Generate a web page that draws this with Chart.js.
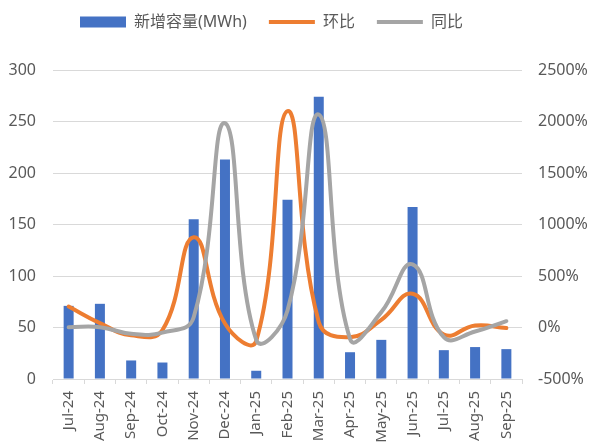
<!DOCTYPE html>
<html>
<head>
<meta charset="utf-8">
<script src="https://cdn.jsdelivr.net/npm/chart.js@4.4.1/dist/chart.umd.min.js"></script>
<style>
  body { margin: 0; background: #fff; }
</style>
</head>
<body>
<canvas id="capacity-chart" width="590" height="448"></canvas>
<script>
// monthly data
const months = ['Jul-24', 'Aug-24', 'Sep-24', 'Oct-24', 'Nov-24', 'Dec-24', 'Jan-25',
    'Feb-25', 'Mar-25', 'Apr-25', 'May-25', 'Jun-25', 'Jul-25', 'Aug-25', 'Sep-25'];
const newCapacity = [71, 73, 18, 16, 155, 213, 8, 174, 274, 26, 38, 167, 28, 31, 29];
const momChange = [203, 42, -75, -25, 877, 38, -130, 2100, 52, -94, 75, 327, -68, 19, -6];
const yoyChange = [3, 3, -61, -50, 100, 1983, -120, 165, 2068, -110, 149, 612, -94, -39, 61];

const seriesNames = ['新增容量(MWh)', '环比', '同比'];

Chart.defaults.font.family = '"Noto Sans", "Noto Sans CJK SC", sans-serif';
Chart.defaults.color = '#595959';

const gridColor = '#D9D9D9';

// legend sits higher than chart.js puts it, and leaves room below
const legendPlacement = {
    id: 'legendPlacement',
    afterInit(chart) {
        const fit = chart.legend.fit;
        chart.legend.fit = function () {
            fit.call(this);
            this.height = 70;
        };
    },
    afterLayout(chart) {
        chart.legend.left = 80 - 22;
        chart.legend.top = -8;
    }
};

const canvas = document.getElementById('capacity-chart');

new Chart(canvas, {
    data: {
        labels: months,
        datasets: [{
            type: 'bar',
            label: seriesNames[0],
            data: newCapacity,
            backgroundColor: '#4472C4',
            borderWidth: 0,
            barPercentage: 0.32,
            categoryPercentage: 1,
            pointStyle: 'rect',
            yAxisID: 'y',
            order: 3
        }, {
            type: 'line',
            label: seriesNames[1],
            data: momChange,
            borderColor: '#ED7D31',
            backgroundColor: '#ED7D31',
            borderWidth: 4,
            borderCapStyle: 'round',
            pointRadius: 0,
            pointStyle: 'line',
            tension: 0.45,
            yAxisID: 'y1',
            order: 2
        }, {
            type: 'line',
            label: seriesNames[2],
            data: yoyChange,
            borderColor: '#A5A5A5',
            backgroundColor: '#A5A5A5',
            borderWidth: 4,
            borderCapStyle: 'round',
            pointRadius: 0,
            pointStyle: 'line',
            tension: 0.45,
            yAxisID: 'y1',
            order: 1
        }]
    },
    options: {
        responsive: false,
        devicePixelRatio: 1,
        animation: false,
        layout: { padding: 0 },
        plugins: {
            legend: {
                position: 'top',
                align: 'start',
                labels: {
                    usePointStyle: true,
                    pointStyleWidth: 46,
                    boxHeight: 11,
                    padding: 22,
                    font: { size: 16 },
                    color: '#595959',
                    sort: (a, b) => a.datasetIndex - b.datasetIndex
                }
            },
            tooltip: { enabled: false }
        },
        scales: {
            x: {
                grid: {
                    offset: true,
                    drawOnChartArea: false,
                    drawTicks: true,
                    tickLength: 5,
                    color: gridColor
                },
                border: { color: gridColor },
                ticks: {
                    minRotation: 90,
                    maxRotation: 90,
                    padding: 7,
                    font: { size: 15 }
                },
                afterFit: scale => { scale.height = 69; }
            },
            y: {
                position: 'left',
                min: 0,
                max: 300,
                ticks: { stepSize: 50, padding: 17, font: { size: 16 } },
                grid: { color: gridColor, drawTicks: false },
                border: { display: false },
                afterFit: scale => { scale.width = 53; }
            },
            y1: {
                position: 'right',
                min: -500,
                max: 2500,
                ticks: {
                    stepSize: 500,
                    padding: 16,
                    font: { size: 16 },
                    callback: v => v + '%'
                },
                grid: { display: false, drawTicks: false },
                border: { display: false },
                afterFit: scale => { scale.width = 68; }
            }
        }
    },
    plugins: [legendPlacement]
});
</script>
</body>
</html>
